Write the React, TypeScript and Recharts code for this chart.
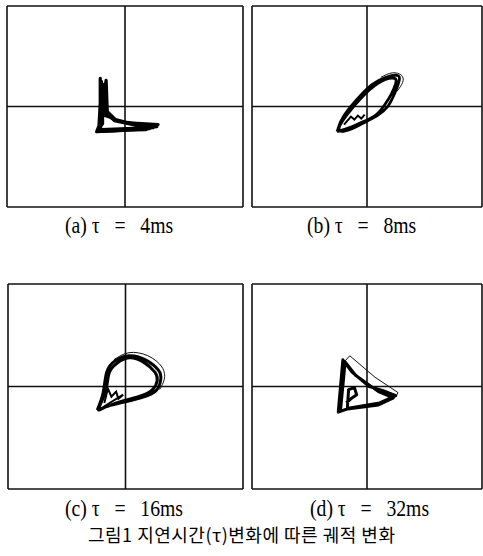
import { LineChart, Line, XAxis, YAxis, ReferenceLine } from "recharts";

// phase-space trajectories (units: -10..10 per axis)
const trajA = [
  [-2.1, -1.8], [-2.1, 2.8], [-1.8, -0.4], [-1.1, -1.2], [0, -1.6], [2.8, -1.8], [2.1, -2.2],
  [-2.4, -2.5], [-2.2, -1.9], [-1.6, 2.6], [-1.5, -0.5], [-0.8, -1.3], [0.5, -1.7], [2.6, -1.9],
  [1.8, -2.3], [-2.3, -2.4], [-1.9, -1.7], [-1.9, 2.2], [-1.7, -0.7], [-0.5, -1.5], [2.0, -1.8],
  [2.4, -2.1], [-2.0, -2.3], [-2.2, -1.8], [-2.0, 2.5], [-1.6, -0.6], [-0.9, -1.4], [1.5, -2.0],
  [2.7, -2.0], [-2.3, -2.5], [-2.0, -1.0], [-1.8, 1.5], [-1.7, -0.9], [-1.2, -1.1],
];
const trajAOuter = [[-2.5, -2.6], [-1.0, -2.55], [1.0, -2.4], [2.8, -1.8]];

const trajB = [
  [-2.6, -2.5], [-2.0, -0.9], [-0.4, 1.3], [0.6, 2.3], [1.65, 2.9], [2.6, 3.1], [2.8, 2.6],
  [2.4, 1.3], [1.8, 0], [0.9, -0.9], [-0.4, -1.7], [-1.3, -2.2], [-2.4, -2.4],
  [-1.8, -0.9], [-0.3, 1.1], [0.7, 2.1], [1.6, 2.7], [2.4, 2.8], [2.5, 2.3], [2.1, 1.2],
  [1.5, 0.1], [0.7, -0.9], [-0.5, -1.6], [-1.5, -2.1], [-2.6, -2.5],
];
const trajBInner = [[-2.0, -1.8], [-1.4, -1.0], [-1.1, -1.3], [-0.8, -0.9], [-0.5, -1.2], [-0.2, -0.8]];
const trajBOuter = [[1.2, 2.9], [2.2, 3.35], [3.0, 3.1], [3.1, 2.4], [2.6, 1.5]];

const trajC = [
  [-2.4, -2.3], [-1.9, -0.6], [-1.6, 1.4], [-0.9, 2.5], [0.3, 3.0], [1.7, 2.6], [2.8, 1.6],
  [3.0, 0.7], [2.6, -0.4], [1.3, -1.1], [-0.4, -1.6], [-1.7, -2.0], [-2.3, -2.2], [-1.7, -0.5],
  [-1.4, 1.3], [-0.7, 2.3], [0.3, 2.8], [1.5, 2.4], [2.5, 1.4], [2.7, 0.6], [2.3, -0.3],
  [1.1, -1.0], [-0.5, -1.5], [-2.4, -2.3],
];
const trajCInner = [[-1.8, -1.6], [-1.5, -0.2], [-1.2, -1.0], [-0.8, -0.5], [-0.6, -1.2], [-0.2, -0.8], [-1.9, -2.0]];
const trajCOuter = [[-1.0, 2.6], [0.3, 3.3], [1.9, 3.0], [3.1, 1.9], [3.3, 0.7], [2.9, -0.3]];

const trajD = [
  [-2.5, -2.5], [-2.1, 2.6], [-1.3, 1.4], [0.2, 0.0], [1.4, -0.4], [2.5, -0.9], [1.1, -1.6],
  [-1.5, -2.1], [-2.5, -2.5], [-2.3, -2.3], [-1.9, 2.4], [-1.0, 1.1], [1.0, -0.5], [2.3, -1.1],
  [1.0, -1.8], [-1.7, -2.2], [-1.7, -2.0], [-1.6, -0.3], [-1.1, -0.1], [-0.9, -0.8],
  [-1.4, -1.2], [-1.8, -1.6],
];
const trajDInner: number[][] = [];
const trajDOuter = [[-1.9, 2.5], [-1.5, 3.0], [0.7, 0.9], [2.7, -0.6], [2.5, -1.0]];

const labels = ["(a) τ   =   4ms", "(b) τ   =   8ms", "(c) τ   =   16ms", "(d) τ   =   32ms"];
const caption = "그림1 지연시간(τ)변화에 따른 궤적 변화";
const frame = [-10, 0, 10];

const toPts = (arr: number[][]) => arr.map(([x, y]) => ({ x, y }));

function Panel({ main, inner, outer, curve, weight, left, top, width, height }: any) {
  return (
    <div style={{ position: "absolute", left, top }}>
      <LineChart width={width} height={height} margin={{ top: 1, right: 1, bottom: 1, left: 1 }}>
        <XAxis type="number" dataKey="x" domain={[-10, 10]} hide />
        <YAxis type="number" dataKey="y" domain={[-10, 10]} hide />
        {frame.map((v) => (
          <ReferenceLine key={"x" + v} x={v} stroke="#111" strokeWidth={1.6} />
        ))}
        {frame.map((v) => (
          <ReferenceLine key={"y" + v} y={v} stroke="#111" strokeWidth={1.6} />
        ))}
        <Line data={toPts(outer)} dataKey="y" type={curve} dot={false} stroke="#111" strokeWidth={1} isAnimationActive={false} />
        <Line data={toPts(main)} dataKey="y" type={curve} dot={false} stroke="#000" strokeWidth={weight} strokeLinejoin="round" isAnimationActive={false} />
        <Line data={toPts(inner)} dataKey="y" type="linear" dot={false} stroke="#000" strokeWidth={2} isAnimationActive={false} />
      </LineChart>
    </div>
  );
}

const labelStyle: any = {
  position: "absolute",
  fontFamily: "'Liberation Serif', serif",
  fontSize: 24,
  lineHeight: "26px",
  whiteSpace: "pre",
  color: "#000",
  transform: "scaleX(0.82)",
  transformOrigin: "left center",
};

export default function App() {
  return (
    <div style={{ position: "absolute", left: 0, top: 0, width: 483, height: 556, background: "#fff" }}>
      <Panel main={trajA} inner={[]} outer={trajAOuter} curve="linear" weight={3.2} left={6} top={5} width={238} height={203} />
      <Panel main={trajB} inner={trajBInner} outer={trajBOuter} curve="natural" weight={2.8} left={251} top={5} width={232} height={203} />
      <Panel main={trajC} inner={trajCInner} outer={trajCOuter} curve="natural" weight={3} left={7} top={283} width={237} height={207} />
      <Panel main={trajD} inner={trajDInner} outer={trajDOuter} curve="linear" weight={3} left={251} top={283} width={232} height={207} />
      <div style={{ ...labelStyle, left: 65, top: 212 }}>{labels[0]}</div>
      <div style={{ ...labelStyle, left: 307, top: 212 }}>{labels[1]}</div>
      <div style={{ ...labelStyle, left: 65, top: 495 }}>{labels[2]}</div>
      <div style={{ ...labelStyle, left: 310, top: 495 }}>{labels[3]}</div>
      <div
        style={{
          position: "absolute",
          left: 88,
          top: 522,
          fontFamily: "'Noto Sans CJK KR', sans-serif",
          fontSize: 18,
          letterSpacing: 0.5,
          lineHeight: "24px",
          whiteSpace: "pre",
          color: "#000",
        }}
      >
        {caption}
      </div>
    </div>
  );
}
